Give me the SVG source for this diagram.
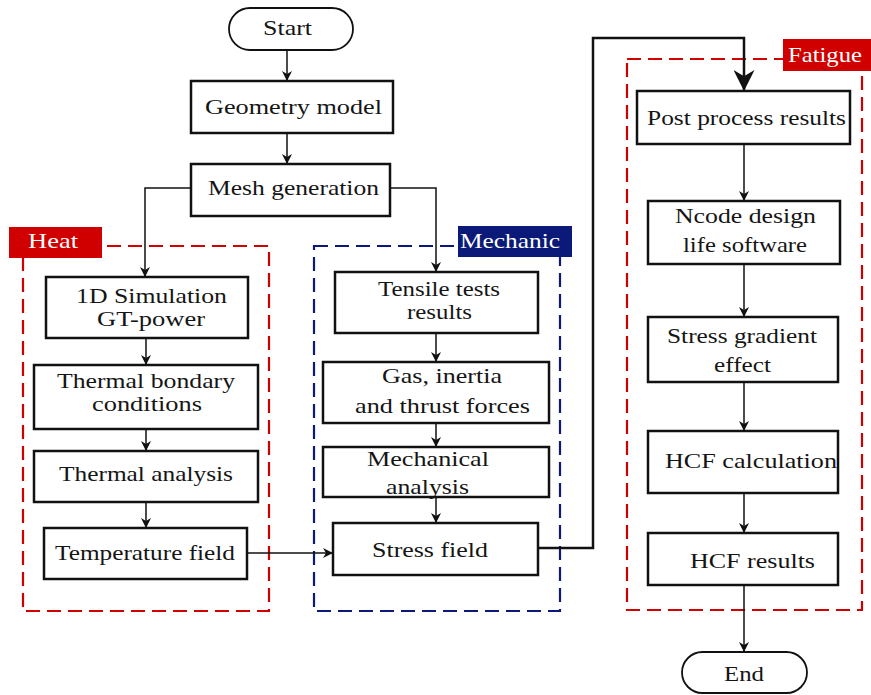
<svg xmlns="http://www.w3.org/2000/svg" width="871" height="695" viewBox="0 0 871 695">
<style>
.box{fill:#fff;stroke:#111;stroke-width:2.5}
.t{font-family:"Liberation Serif","Times New Roman",serif;font-size:22px;fill:#151515}
.s{font-size:20px}
.lbl{font-family:"Liberation Serif","Times New Roman",serif;font-size:22px;fill:#fff}
.c{fill:none;stroke:#111;stroke-width:1.5}
.red{fill:none;stroke:#d00000;stroke-width:2.2;stroke-dasharray:14 7}
.navy{fill:none;stroke:#0b1a78;stroke-width:2.2;stroke-dasharray:14 7}
</style>
<defs>
<marker id="ah" markerUnits="userSpaceOnUse" viewBox="0 0 10 10" refX="10" refY="5" markerWidth="11" markerHeight="10" orient="auto">
<path d="M0,0 L10,5 L0,10 L3,5 z" fill="#111"/>
</marker>
<marker id="big" markerUnits="userSpaceOnUse" viewBox="0 0 10 10" refX="10" refY="5" markerWidth="24" markerHeight="21" orient="auto">
<path d="M0,0 L10,5 L0,10 L3,5 z" fill="#111"/>
</marker>
</defs>
<rect width="871" height="695" fill="#fff"/>

<g id="group-heat">
<rect class="red" x="23" y="246" width="246" height="365"/>
<rect x="9" y="227" width="93" height="31" fill="#d00000"/>
<text class="lbl" x="28" y="248" textLength="50" lengthAdjust="spacingAndGlyphs">Heat</text>
</g>
<g id="group-mechanic">
<rect class="navy" x="314" y="246" width="246" height="365"/>
<rect x="458" y="226" width="114" height="31" fill="#0b1a78"/>
<text class="lbl" x="460" y="248" textLength="100" lengthAdjust="spacingAndGlyphs">Mechanic</text>
</g>
<g id="group-fatigue">
<rect class="red" x="627" y="59" width="235" height="551"/>
<rect x="783" y="39" width="88" height="32" fill="#d00000"/>
<text class="lbl" x="788" y="62" textLength="74" lengthAdjust="spacingAndGlyphs">Fatigue</text>
</g>

<g id="connectors">
<path class="c" d="M287,50 V81" marker-end="url(#ah)"/>
<path class="c" d="M287,133 V164" marker-end="url(#ah)"/>
<path class="c" d="M191,188 H145 V277" marker-end="url(#ah)"/>
<path class="c" d="M390,188 H436 V272" marker-end="url(#ah)"/>
<path class="c" d="M146,338 V365" marker-end="url(#ah)"/>
<path class="c" d="M146,429 V451" marker-end="url(#ah)"/>
<path class="c" d="M146,502 V528" marker-end="url(#ah)"/>
<path class="c" d="M436,333 V362" marker-end="url(#ah)"/>
<path class="c" d="M436,423 V447" marker-end="url(#ah)"/>
<path class="c" d="M436,497 V523" marker-end="url(#ah)"/>
<path class="c" d="M247,553 H333" marker-end="url(#ah)"/>
<path class="c" style="stroke-width:2.5" d="M538,548 H593 V38 H744 V91" marker-end="url(#big)"/>
<path class="c" d="M744,144 V201" marker-end="url(#ah)"/>
<path class="c" d="M744,264 V317" marker-end="url(#ah)"/>
<path class="c" d="M744,382 V431" marker-end="url(#ah)"/>
<path class="c" d="M744,493 V533" marker-end="url(#ah)"/>
<path class="c" d="M744,585 V652" marker-end="url(#ah)"/>
</g>

<g id="start">
<rect class="box" style="stroke-width:1.8" x="229" y="8" width="124" height="42" rx="21"/>
<text class="t" x="263" y="35" textLength="49" lengthAdjust="spacingAndGlyphs">Start</text>
</g>
<g id="geometry">
<rect class="box" x="191" y="81" width="202" height="52"/>
<text class="t" x="205" y="114" textLength="177" lengthAdjust="spacingAndGlyphs">Geometry model</text>
</g>
<g id="mesh">
<rect class="box" x="191" y="164" width="199" height="52"/>
<text class="t" x="208" y="195" textLength="171" lengthAdjust="spacingAndGlyphs">Mesh generation</text>
</g>

<g id="sim1d">
<rect class="box" x="46" y="277" width="202" height="61"/>
<text class="t" x="76" y="303" textLength="151" lengthAdjust="spacingAndGlyphs">1D Simulation</text>
<text class="t" x="97" y="326" textLength="108" lengthAdjust="spacingAndGlyphs">GT-power</text>
</g>
<g id="thermal-bc">
<rect class="box" x="34" y="365" width="224" height="64"/>
<text class="t" x="57" y="388" textLength="178" lengthAdjust="spacingAndGlyphs">Thermal bondary</text>
<text class="t" x="92" y="411" textLength="110" lengthAdjust="spacingAndGlyphs">conditions</text>
</g>
<g id="thermal-analysis">
<rect class="box" x="34" y="451" width="224" height="51"/>
<text class="t" x="59" y="481" textLength="174" lengthAdjust="spacingAndGlyphs">Thermal analysis</text>
</g>
<g id="temperature-field">
<rect class="box" x="44" y="528" width="203" height="51"/>
<text class="t" x="55" y="560" textLength="180" lengthAdjust="spacingAndGlyphs">Temperature field</text>
</g>

<g id="tensile">
<rect class="box" x="335" y="272" width="203" height="61"/>
<text class="t s" x="378" y="296" textLength="122" lengthAdjust="spacingAndGlyphs">Tensile tests</text>
<text class="t s" x="407" y="319" textLength="65" lengthAdjust="spacingAndGlyphs">results</text>
</g>
<g id="forces">
<rect class="box" x="323" y="362" width="226" height="61"/>
<text class="t" x="382" y="383" textLength="120" lengthAdjust="spacingAndGlyphs">Gas, inertia</text>
<text class="t" x="355" y="413" textLength="175" lengthAdjust="spacingAndGlyphs">and thrust forces</text>
</g>
<g id="mech-analysis">
<rect class="box" x="323" y="447" width="226" height="50"/>
<text class="t" x="367" y="466" textLength="122" lengthAdjust="spacingAndGlyphs">Mechanical</text>
<text class="t" x="386" y="494" textLength="83" lengthAdjust="spacingAndGlyphs">analysis</text>
</g>
<g id="stress-field">
<rect class="box" x="333" y="523" width="205" height="52"/>
<text class="t" x="372" y="557" textLength="116" lengthAdjust="spacingAndGlyphs">Stress field</text>
</g>

<g id="post">
<rect class="box" x="637" y="91" width="213" height="53"/>
<text class="t" x="647" y="125" textLength="199" lengthAdjust="spacingAndGlyphs">Post process results</text>
</g>
<g id="ncode">
<rect class="box" x="648" y="201" width="192" height="63"/>
<text class="t" x="675" y="223" textLength="141" lengthAdjust="spacingAndGlyphs">Ncode design</text>
<text class="t" x="683" y="252" textLength="124" lengthAdjust="spacingAndGlyphs">life software</text>
</g>
<g id="stress-gradient">
<rect class="box" x="648" y="317" width="190" height="65"/>
<text class="t" x="667" y="343" textLength="150" lengthAdjust="spacingAndGlyphs">Stress gradient</text>
<text class="t" x="714" y="372" textLength="57" lengthAdjust="spacingAndGlyphs">effect</text>
</g>
<g id="hcf-calc">
<rect class="box" x="648" y="431" width="190" height="62"/>
<text class="t" x="665" y="468" textLength="172" lengthAdjust="spacingAndGlyphs">HCF calculation</text>
</g>
<g id="hcf-results">
<rect class="box" x="648" y="533" width="190" height="52"/>
<text class="t" x="690" y="568" textLength="125" lengthAdjust="spacingAndGlyphs">HCF results</text>
</g>
<g id="end">
<rect class="box" style="stroke-width:1.8" x="682" y="652" width="125" height="41" rx="20.5"/>
<text class="t" x="724" y="681" textLength="40" lengthAdjust="spacingAndGlyphs">End</text>
</g>
</svg>
